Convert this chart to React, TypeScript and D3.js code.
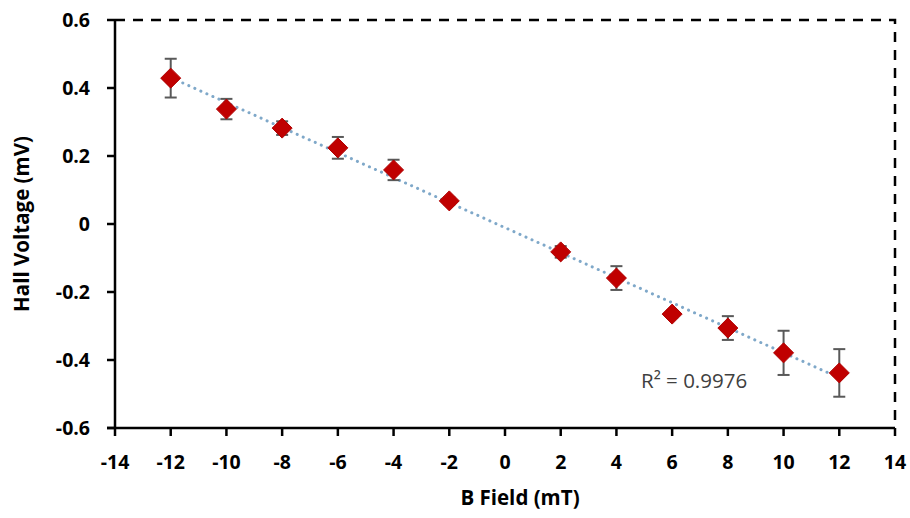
import React from "react";
import * as d3 from "d3";

const bField = [-12, -10, -8, -6, -4, -2, 2, 4, 6, 8, 10, 12];
const hallVoltage = [0.429, 0.338, 0.282, 0.224, 0.159, 0.068, -0.082, -0.159, -0.265, -0.306, -0.379, -0.438];
const errors = [0.057, 0.03, 0.02, 0.032, 0.03, 0.01, 0.017, 0.035, 0.01, 0.035, 0.065, 0.07];
const xTicks = [-14, -12, -10, -8, -6, -4, -2, 0, 2, 4, 6, 8, 10, 12, 14];
const yTicks = [-0.6, -0.4, -0.2, 0, 0.2, 0.4, 0.6];
const rSquaredLabel = "R² = 0.9976";

export default function App() {
  const W = 910, H = 518;
  const left = 115, right = 895, top = 20, bottom = 428;
  const x = d3.scaleLinear().domain([-14, 14]).range([left, right]);
  const y = d3.scaleLinear().domain([-0.6, 0.6]).range([bottom, top]);

  const n = bField.length;
  const mx = d3.mean(bField)!;
  const my = d3.mean(hallVoltage)!;
  let sxy = 0, sxx = 0;
  for (let i = 0; i < n; i++) {
    sxy += (bField[i] - mx) * (hallVoltage[i] - my);
    sxx += (bField[i] - mx) ** 2;
  }
  const slope = sxy / sxx;
  const intercept = my - slope * mx;
  const x0 = d3.min(bField)!, x1 = d3.max(bField)!;
  const line = d3.line<number>().x((d) => x(d)).y((d) => y(slope * d + intercept));

  const family = "'Open Sans', 'Liberation Sans', sans-serif";
  const tickFont = { fontFamily: family, fontWeight: 700, fontSize: 19.5 };
  const titleFont = { fontFamily: family, fontWeight: 700, fontSize: 20.5 };
  const dia = 10;

  return (
    <svg width={W} height={H} style={{ position: "absolute", left: 0, top: 0, background: "#fff" }}>
      <rect width={W} height={H} fill="#fff" />
      <path d={`M${left},${top} H${right} V${bottom}`} fill="none" stroke="#000" strokeWidth={2.5} strokeDasharray="10 8" />
      <path d={line([x0, x1]) || ""} fill="none" stroke="#7FA8C9" strokeWidth={3} strokeDasharray="0.1 6.5" strokeLinecap="round" />
      {bField.map((b, i) => {
        const cx = x(b);
        const yt = y(hallVoltage[i] + errors[i]);
        const yb = y(hallVoltage[i] - errors[i]);
        return (
          <g key={"e" + i} stroke="#595959" strokeWidth={2}>
            <line x1={cx} x2={cx} y1={yt} y2={yb} />
            <line x1={cx - 6} x2={cx + 6} y1={yt} y2={yt} />
            <line x1={cx - 6} x2={cx + 6} y1={yb} y2={yb} />
          </g>
        );
      })}
      {bField.map((b, i) => {
        const cx = x(b), cy = y(hallVoltage[i]);
        return (
          <path key={"m" + i} d={`M${cx},${cy - dia} L${cx + dia},${cy} L${cx},${cy + dia} L${cx - dia},${cy} Z`} fill="#C00000" stroke="#B00000" strokeWidth={1} />
        );
      })}
      <line x1={left} x2={left} y1={top} y2={bottom} stroke="#000" strokeWidth={2.5} />
      <line x1={left - 8} x2={right} y1={bottom} y2={bottom} stroke="#000" strokeWidth={2.5} />
      {yTicks.map((t) => (
        <g key={"yt" + t}>
          <line x1={left - 8} x2={left} y1={y(t)} y2={y(t)} stroke="#000" strokeWidth={2.5} />
          <text x={90} y={y(t)} dy="0.35em" textAnchor="end" {...tickFont}>{t === 0 ? "0" : d3.format(".1f")(t).replace("−", "-")}</text>
        </g>
      ))}
      {xTicks.map((t) => (
        <g key={"xt" + t}>
          <line x1={x(t)} x2={x(t)} y1={bottom} y2={bottom + 8} stroke="#000" strokeWidth={2.5} />
          <text x={x(t)} y={469} textAnchor="middle" {...tickFont}>{String(t)}</text>
        </g>
      ))}
      <text x={641} y={388} fontFamily={family} fontSize={20.5} fill="#404040">{rSquaredLabel}</text>
      <text x={520} y={505} textAnchor="middle" {...titleFont}>B Field (mT)</text>
      <text transform={`translate(29,${(top + bottom) / 2}) rotate(-90)`} textAnchor="middle" {...titleFont}>Hall Voltage (mV)</text>
    </svg>
  );
}
